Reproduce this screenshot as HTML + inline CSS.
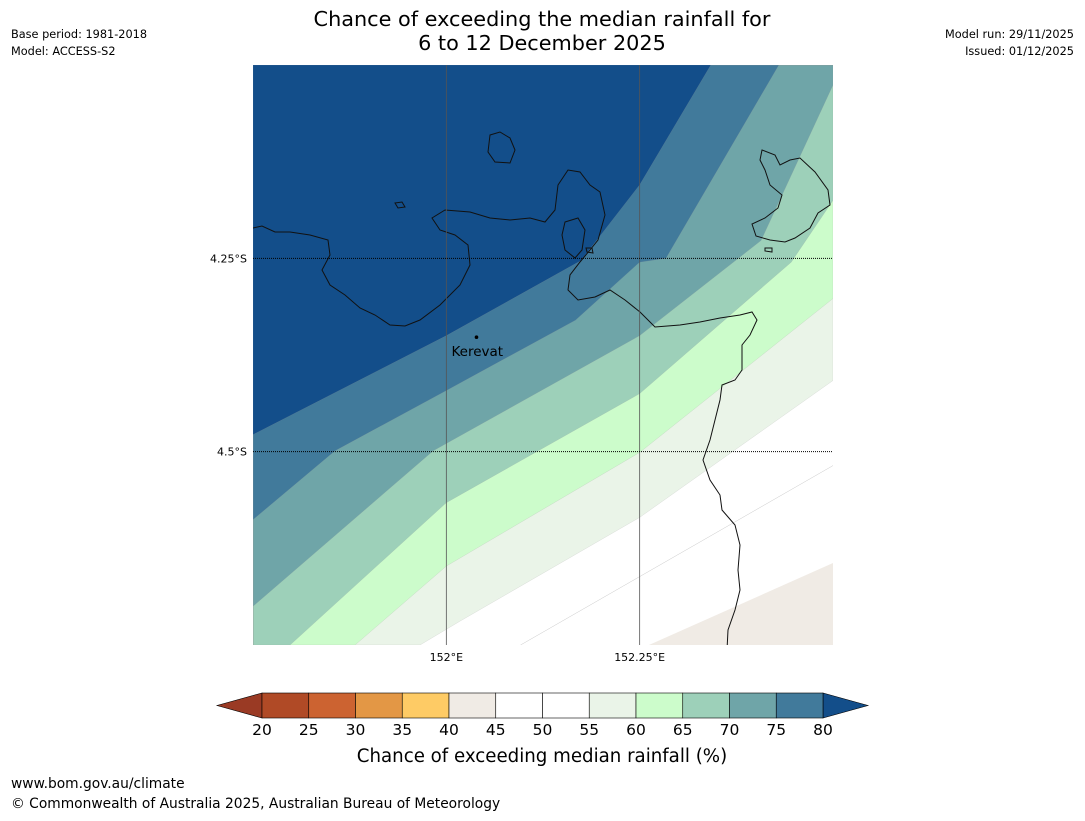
<!DOCTYPE html>
<html><head><meta charset="utf-8"><style>
body{margin:0;background:#fff;width:1085px;height:816px;overflow:hidden;font-family:"Liberation Sans","DejaVu Sans",sans-serif}
svg text{font-family:"DejaVu Sans","Liberation Sans",sans-serif}
</style></head><body>
<svg id="c" width="1085" height="816">
<text x="542" y="26" font-size="20.8" text-anchor="middle">Chance of exceeding the median rainfall for</text>
<text x="542" y="50" font-size="20.8" text-anchor="middle">6 to 12 December 2025</text>
<text x="11" y="38" font-size="11.3">Base period: 1981-2018</text>
<text x="11" y="55" font-size="11.3">Model: ACCESS-S2</text>
<text x="1074" y="38" font-size="11.3" text-anchor="end">Model run: 29/11/2025</text>
<text x="1074" y="55" font-size="11.3" text-anchor="end">Issued: 01/12/2025</text>
<g id="map"></g>
<g id="cb"></g>
<text x="542" y="762" font-size="18.2" text-anchor="middle">Chance of exceeding median rainfall (%)</text>
<text x="11" y="788" font-size="13.8">www.bom.gov.au/climate</text>
<text x="11" y="808" font-size="13.8">© Commonwealth of Australia 2025, Australian Bureau of Meteorology</text>
</svg>
<script>
// map extent
const lonRange=[151.75,152.5];
const latRange=[-4.0,-4.75];
// contour boundaries (lon,lat) with band colours, lowest first
const bandColors=["#eaf4e8","#ccfccb","#9dd0b9","#6fa5a8","#417a9b","#134e8a"];
const b55=[[151.966,-4.75],[152.018,-4.719],[152.25,-4.585],[152.5,-4.408]];
const b60=[[151.882,-4.75],[152.0,-4.648],[152.25,-4.501],[152.5,-4.302]];
const b65=[[151.798,-4.75],[152.0,-4.566],[152.25,-4.425],[152.446,-4.255],[152.5,-4.175]];
const b70=[[151.75,-4.7],[151.983,-4.499],[152.25,-4.35],[152.407,-4.227],[152.5,-4.026]];
const b75=[[151.75,-4.588],[151.856,-4.499],[152.0,-4.421],[152.167,-4.33],[152.25,-4.255],[152.284,-4.25],[152.43,-4.0]];
const b80=[[151.75,-4.478],[152.0,-4.35],[152.174,-4.253],[152.25,-4.155],[152.342,-4.0]];
const lowZone=[[152.262,-4.75],[152.5,-4.644],[152.5,-4.75]];
const faintLines=[[[152.096,-4.75],[152.5,-4.518]]];
const lonTicks=[152.0,152.25];
const lonTickLabels=["152°E","152.25°E"];
const latTicks=[-4.25,-4.5];
const latTickLabels=["4.25°S","4.5°S"];
const towns=[["Kerevat",152.039,-4.352]];
// colorbar
const cbLevels=[20,25,30,35,40,45,50,55,60,65,70,75,80];
const cbColors=["#b04a26","#cc6331","#e39745","#fecb65","#f0ebe5","#ffffff","#ffffff","#eaf4e8","#ccfccb","#9dd0b9","#6fa5a8","#417a9b"];
const cbUnder="#9a3a24", cbOver="#134e8a";

const NS="http://www.w3.org/2000/svg";
const X0=253,X1=833,Y0=65,Y1=645;
const sx=l=>X0+(l-lonRange[0])/(lonRange[1]-lonRange[0])*(X1-X0);
const sy=l=>Y0+(l-latRange[0])/(latRange[1]-latRange[0])*(Y1-Y0);
function mk(t,a,p){const e=document.createElementNS(NS,t);for(const k in a)e.setAttribute(k,a[k]);(p||map).appendChild(e);return e;}
const map=document.getElementById('map');
const defs=mk('defs',{});const cp=mk('clipPath',{id:'clip'},defs);mk('rect',{x:X0,y:Y0,width:X1-X0,height:Y1-Y0},cp);
const g=mk('g',{'clip-path':'url(#clip)'});
let r=mk('rect',{x:X0,y:Y0,width:X1-X0,height:Y1-Y0,fill:'#fff'},g);


const closeTL=[[152.5,-4.0],[151.75,-4.0],[151.75,-4.75]];
[b55,b60,b65,b70,b75,b80].forEach((b,i)=>{
  const pts=b.concat(closeTL).map(p=>sx(p[0])+','+sy(p[1])).join(' ');
  const e=mk('polygon',{points:pts,fill:bandColors[i],stroke:'#999','stroke-width':0.15},g);
  
  
});
let lz=mk('polygon',{points:lowZone.map(p=>sx(p[0])+','+sy(p[1])).join(' '),fill:'#f0ebe5'},g);


faintLines.forEach(l=>{const e=mk('polyline',{points:l.map(p=>sx(p[0])+','+sy(p[1])).join(' '),fill:'none',stroke:'#bbb','stroke-width':0.4},g);

});
// coastlines
const coast=["M253,228 L262,226 275,232 290,232 310,235 328,240 330,255 322,270 330,285 345,295 360,308 375,315 390,325 405,326 420,320 440,305 460,285 470,265 468,245 455,235 440,230 432,218 445,210 470,212 490,218 510,220 530,218 545,222 555,210 558,185 568,170 580,172 590,185 600,192 605,215 598,240 590,250 580,262 570,275 568,290 578,300 595,297 610,290 625,300 640,312 655,327 680,325 700,322 720,318 740,315 752,312 757,320 750,335 742,345 742,370 735,380 722,385 720,400 715,420 710,440 703,460 710,480 720,495 722,510 735,525 740,545 738,570 740,590 735,610 728,630 727,650",
"M565,222 L578,218 585,230 582,250 575,258 565,250 562,235 Z",
"M490,135 L500,132 510,138 515,150 510,163 495,162 488,152 Z",
"M395,203 L402,202 405,207 398,208 Z",
"M762,150 L775,155 780,165 790,160 800,158 815,172 828,190 830,205 818,213 810,228 795,238 785,242 770,240 756,236 752,224 765,218 778,208 782,195 770,185 765,170 760,160 Z",
"M586,248 L592,248 593,253 587,252 Z","M765,248 L772,248 772,252 765,251 Z"];
coast.forEach(d=>{const e=mk('path',{d:d,fill:'none',stroke:'#111','stroke-width':1},g);

});
// gridlines
lonTicks.forEach((t,i)=>{const x=sx(t);
 const l=mk('line',{x1:x,y1:Y0,x2:x,y2:Y1,stroke:'#555','stroke-width':0.8});
 
 
 const tx=mk('text',{x:x,y:Y1+16,'font-size':11,'text-anchor':'middle'});tx.textContent=lonTickLabels[i];
 
 });
latTicks.forEach((t,i)=>{const y=sy(t);
 const l=mk('line',{x1:X0,y1:y,x2:X1,y2:y,stroke:'#000','stroke-width':1,'stroke-dasharray':'1,1'});
 
 
 const tx=mk('text',{x:X0-6,y:y+4,'font-size':11,'text-anchor':'end'});tx.textContent=latTickLabels[i];
 
 });
towns.forEach(t=>{const c=mk('circle',{cx:sx(t[1]),cy:sy(t[2]),r:1.8,fill:'#000'});
 
 
 const tx=mk('text',{x:sx(t[1])-25,y:sy(t[2])+19,'font-size':13.5});tx.textContent=t[0];
 
 });
// colorbar
const cb=document.getElementById('cb');
const CX0=262,CX1=823,CY0=693,CY1=718;
const cx=v=>CX0+(v-cbLevels[0])/(cbLevels[cbLevels.length-1]-cbLevels[0])*(CX1-CX0);
let u=mk('polygon',{points:`${CX0},${CY0} ${CX0},${CY1} 217,${(CY0+CY1)/2}`,fill:cbUnder,stroke:'#000','stroke-width':0.6},cb);


let o=mk('polygon',{points:`${CX1},${CY0} ${CX1},${CY1} 868,${(CY0+CY1)/2}`,fill:cbOver,stroke:'#000','stroke-width':0.6},cb);


cbColors.forEach((c,i)=>{const x=cx(cbLevels[i]),w=cx(cbLevels[i+1])-x;
 const e=mk('rect',{x:x,y:CY0,width:w,height:CY1-CY0,fill:c,stroke:'#000','stroke-width':0.6},cb);
 
 });
cbLevels.forEach(v=>{const t=mk('text',{x:cx(v),y:735,'font-size':15.5,'text-anchor':'middle'},cb);t.textContent=v;
 
 });
</script>
</body></html>
